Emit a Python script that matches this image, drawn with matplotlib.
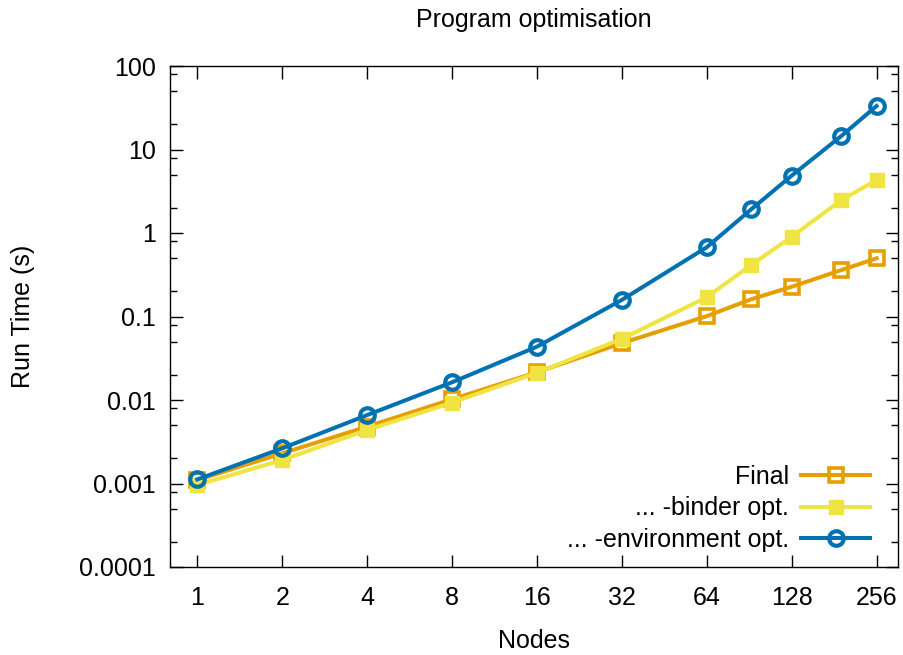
import matplotlib
matplotlib.use("Agg")
import matplotlib.pyplot as plt
from matplotlib.ticker import FixedLocator, NullFormatter
import numpy as np

nodes = [1, 2, 4, 8, 16, 32, 64, 92, 128, 192, 256]
final = [0.00110, 0.0023, 0.0048, 0.0102, 0.0215, 0.048, 0.101, 0.161, 0.227, 0.360, 0.497]
binder = [0.00096, 0.00191, 0.00438, 0.0093, 0.0212, 0.054, 0.170, 0.414, 0.90, 2.48, 4.31]
environment = [0.00112, 0.00264, 0.0066, 0.0163, 0.0435, 0.158, 0.675, 1.92, 4.86, 14.5, 33.2]

xticks = [1, 2, 4, 8, 16, 32, 64, 128, 256]
xticklabels = ["1", "2", "4", "8", "16", "32", "64", "128", "256"]
yticks = [1e-4, 1e-3, 1e-2, 1e-1, 1, 10, 100]
yticklabels = ["0.0001", "0.001", "0.01", "0.1", "1", "10", "100"]

plt.rcParams['font.family'] = ['Liberation Sans', 'DejaVu Sans']
FS = 18

fig = plt.figure(figsize=(9.04, 6.55), dpi=100)
ax = fig.add_axes([170/904, 1-567/655, (898-170)/904, (567-66)/655])

ax.plot(nodes, final, color='#E69F00', lw=2.9, marker='s', ms=9.5,
        mfc='none', mec='#E69F00', mew=2.6, label='Final', zorder=3)
ax.plot(nodes, binder, color='#F0E442', lw=2.9, marker='s', ms=10.5,
        mfc='#F0E442', mec='#F0E442', label='... -binder opt.', zorder=4)
ax.plot(nodes, environment, color='#0072B2', lw=2.9, marker='o', ms=10.5,
        mfc='none', mec='#0072B2', mew=3, label='... -environment opt.', zorder=5)

ax.set_xscale('log', base=2)
ax.set_yscale('log')
ax.set_xlim(0.8, 305)
ax.set_ylim(1e-4, 100)

ax.xaxis.set_major_locator(FixedLocator(xticks))
ax.set_xticklabels(xticklabels)
ax.xaxis.set_minor_locator(FixedLocator([]))
ax.yaxis.set_major_locator(FixedLocator(yticks))
ax.set_yticklabels(yticklabels)
minor = [m * 10.0**e for e in range(-4, 2) for m in (2, 5, 8)]
ax.yaxis.set_minor_locator(FixedLocator(minor))
ax.yaxis.set_minor_formatter(NullFormatter())

ax.tick_params(which='both', direction='in', top=True, right=True, width=1, labelsize=FS)
ax.tick_params(which='major', length=9)
ax.tick_params(which='minor', length=5)
ax.tick_params(axis='x', pad=14)
ax.tick_params(axis='y', pad=10)
for s in ax.spines.values():
    s.set_linewidth(1)
    s.set_color('black')

ax.set_title('Program optimisation', fontsize=FS, pad=28)
ax.set_xlabel('Nodes', fontsize=FS, labelpad=13)
ax.set_ylabel('Run Time (s)', fontsize=FS, labelpad=32)

leg = ax.legend(loc='lower right', bbox_to_anchor=(0.9615, 0.03), frameon=False,
                markerfirst=False, fontsize=FS, handlelength=2.75, handletextpad=0.5,
                borderpad=0, borderaxespad=0, labelspacing=0.3)
for t in leg.get_texts():
    t.set_ha('right')

fig.savefig('out.png', dpi=100)
